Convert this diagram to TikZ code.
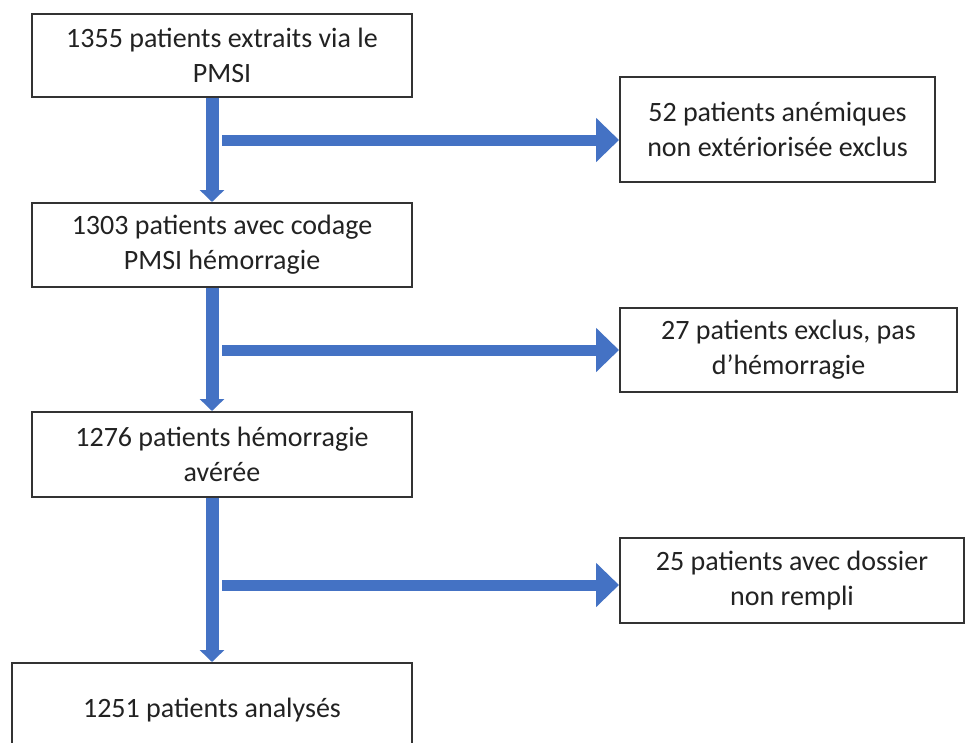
\documentclass[tikz,border=0pt]{standalone}
\usepackage{fontspec}
\setmainfont{Carlito}
\usetikzlibrary{arrows.meta}
\definecolor{flowblue}{HTML}{4472C4}
\definecolor{boxline}{HTML}{333333}
\definecolor{txt}{HTML}{222222}
\begin{document}
\begin{tikzpicture}[x=1pt,y=-1pt,
  box/.style={draw=boxline, line width=2pt, fill=white, align=center, inner sep=0pt,
              text=txt, font=\fontsize{28}{35}\selectfont},
  vflow/.style={draw=flowblue, line width=13pt, -{Triangle[length=12pt,width=24pt]}},
  hflow/.style={draw=flowblue, line width=11pt, -{Triangle[length=23pt,width=43pt]}}]
\useasboundingbox (0,0) rectangle (966,742);
\clip (0,0) rectangle (966,742);
\fill[white] (0,0) rectangle (966,742);
% main column
\node[box, minimum width=380pt, minimum height=83pt] (b1) at (222,55.5) {1355 patients extraits via le\\PMSI};
\node[box, minimum width=380pt, minimum height=84pt] (b2) at (222,245) {1303 patients avec codage\\PMSI hémorragie};
\node[box, minimum width=380pt, minimum height=85pt] (b3) at (222,454.5) {1276 patients hémorragie\\avérée};
\node[box, minimum width=400pt, minimum height=94pt] (b4) at (212,710) {1251 patients analysés};
% exclusions
\node[box, minimum width=315pt, minimum height=105pt] (r1) at (777.5,129.5) {52 patients anémiques\\non extériorisée exclus};
\node[box, minimum width=337pt, minimum height=84pt] (r2) at (788.5,350) {27 patients exclus, pas\\d’hémorragie};
\node[box, minimum width=344pt, minimum height=85pt] (r3) at (792,580.5) {25 patients avec dossier\\non rempli};
% trunk x and branch starts
\coordinate (tx) at (212,0);
\coordinate (h1) at (222,140);
\coordinate (h2) at (222,350);
\coordinate (h3) at (222,585);
% vertical arrows
\draw[vflow] (b1.south -| tx) -- (b2.north -| tx);
\draw[vflow] (b2.south -| tx) -- (b3.north -| tx);
\draw[vflow] (b3.south -| tx) -- (b4.north -| tx);
% horizontal arrows
\draw[hflow] (h1) -- (h1 -| r1.west);
\draw[hflow] (h2) -- (h2 -| r2.west);
\draw[hflow] (h3) -- (h3 -| r3.west);
\end{tikzpicture}
\end{document}
